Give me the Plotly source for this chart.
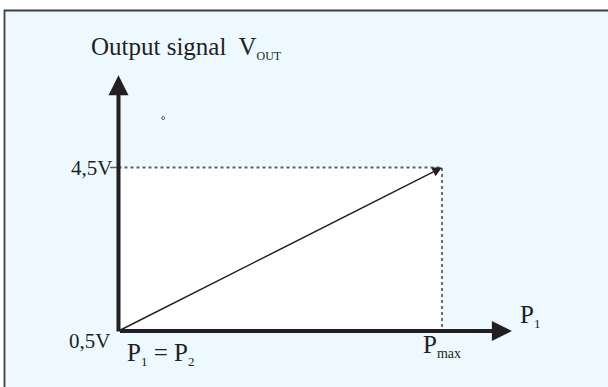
import plotly.graph_objects as go

# Datos de la característica: P relativo a Pmax, salida en voltios
pressure = [0.0, 1.0]        # P1 = P2 ... Pmax
v_out = [0.5, 4.5]           # V
v_labels = ["0,5V", "4,5V"]

# hasta dónde llegan las flechas de los ejes
x_axis_end = 1.216
y_axis_end = 6.76

# puntito suelto que aparece en el dibujo original
stray_x = [0.138]
stray_y = [5.71]

oscuro = "#231F20"
gris = "#5F6062"
azul_claro = "#EDF9FE"
fuente = "Liberation Serif"

fig = go.Figure()

# zona blanca bajo el nivel de 4,5V
fig.add_trace(go.Scatter(
    x=[pressure[0], pressure[1], pressure[1], pressure[0], pressure[0]],
    y=[v_out[0], v_out[0], v_out[1], v_out[1], v_out[0]],
    mode="lines", fill="toself", fillcolor="white",
    line=dict(width=0), hoverinfo="skip",
))

# líneas de guía punteadas
fig.add_trace(go.Scatter(
    x=[pressure[0], pressure[1], pressure[1]],
    y=[v_out[1], v_out[1], v_out[0] - 0.12],
    mode="lines", line=dict(color=gris, width=1.8, dash="dot"),
    hoverinfo="skip",
))

# marca corta a la izquierda del eje en 4,5V
fig.add_trace(go.Scatter(
    x=[pressure[0] - 0.026, pressure[0]],
    y=[v_out[1], v_out[1]],
    mode="lines", line=dict(color=gris, width=1.5),
    hoverinfo="skip",
))

fig.add_trace(go.Scatter(
    x=stray_x, y=stray_y, mode="markers",
    marker=dict(symbol="circle-open", size=3, color=gris, line=dict(width=1)),
    hoverinfo="skip",
))

anotaciones = []

# ejes con flecha
anotaciones.append(dict(
    x=pressure[0], y=y_axis_end, ax=pressure[0], ay=v_out[0] - 0.05,
    xref="x", yref="y", axref="x", ayref="y", text="", showarrow=True,
    arrowhead=2, arrowsize=1, arrowwidth=4, arrowcolor=oscuro,
))
anotaciones.append(dict(
    x=x_axis_end, y=v_out[0], ax=pressure[0], ay=v_out[0],
    xref="x", yref="y", axref="x", ayref="y", text="", showarrow=True,
    arrowhead=2, arrowsize=1, arrowwidth=4, arrowcolor=oscuro,
))
# recta de la salida
anotaciones.append(dict(
    x=pressure[1], y=v_out[1], ax=pressure[0], ay=v_out[0],
    xref="x", yref="y", axref="x", ayref="y", text="", showarrow=True,
    arrowhead=2, arrowsize=1.3, arrowwidth=1.5, arrowcolor=oscuro,
))

# textos
anotaciones.append(dict(
    x=pressure[0], y=y_axis_end, xref="x", yref="y",
    text="Output signal  V<sub><span style='font-size:12px'>OUT</span></sub>",
    showarrow=False, xanchor="left", yanchor="bottom", xshift=-30, yshift=10,
    font=dict(family=fuente, size=25, color=oscuro),
))
anotaciones.append(dict(
    x=pressure[0], y=v_out[1], xref="x", yref="y", text=v_labels[1],
    showarrow=False, xanchor="right", yanchor="middle", xshift=-5,
    font=dict(family=fuente, size=21, color=oscuro),
))
anotaciones.append(dict(
    x=pressure[0], y=v_out[0], xref="x", yref="y", text=v_labels[0],
    showarrow=False, xanchor="right", yanchor="top", xshift=-7, yshift=4,
    font=dict(family=fuente, size=21, color=oscuro),
))
anotaciones.append(dict(
    x=pressure[0], y=v_out[0], xref="x", yref="y",
    text="P<sub><span style='font-size:13px'>1</span></sub> = P<sub><span style='font-size:13px'>2</span></sub>",
    showarrow=False, xanchor="left", yanchor="top", xshift=6, yshift=-6,
    font=dict(family=fuente, size=25, color=oscuro),
))
anotaciones.append(dict(
    x=pressure[1], y=v_out[0], xref="x", yref="y",
    text="P<sub><span style='font-size:14px'>max</span></sub>",
    showarrow=False, xanchor="left", yanchor="top", xshift=-21, yshift=2,
    font=dict(family=fuente, size=25, color=oscuro),
))
anotaciones.append(dict(
    x=x_axis_end, y=v_out[0], xref="x", yref="y",
    text="P<sub><span style='font-size:13px'>1</span></sub>",
    showarrow=False, xanchor="left", yanchor="bottom", xshift=6, yshift=-2,
    font=dict(family=fuente, size=25, color=oscuro),
))

fig.update_layout(
    width=608, height=387,
    margin=dict(l=0, r=0, t=0, b=0),
    paper_bgcolor="white",
    plot_bgcolor="rgba(0,0,0,0)",
    showlegend=False,
    xaxis=dict(range=[-0.3663, 1.5131], visible=False, fixedrange=True),
    yaxis=dict(range=[-0.870, 8.598], visible=False, fixedrange=True),
    shapes=[dict(
        type="rect", xref="paper", yref="paper",
        x0=4.5 / 608, x1=1.1, y0=-0.1, y1=1 - 10.5 / 387,
        fillcolor=azul_claro, line=dict(color="#3F3F3F", width=1.8),
        layer="below",
    )],
    annotations=anotaciones,
)

# quitar el margen por defecto del body para que la figura empiece en (0,0)
fig.write_html(
    "out.html",
    config={"displayModeBar": False},
    post_script="document.body.style.margin='0';document.body.style.overflow='hidden';",
)
